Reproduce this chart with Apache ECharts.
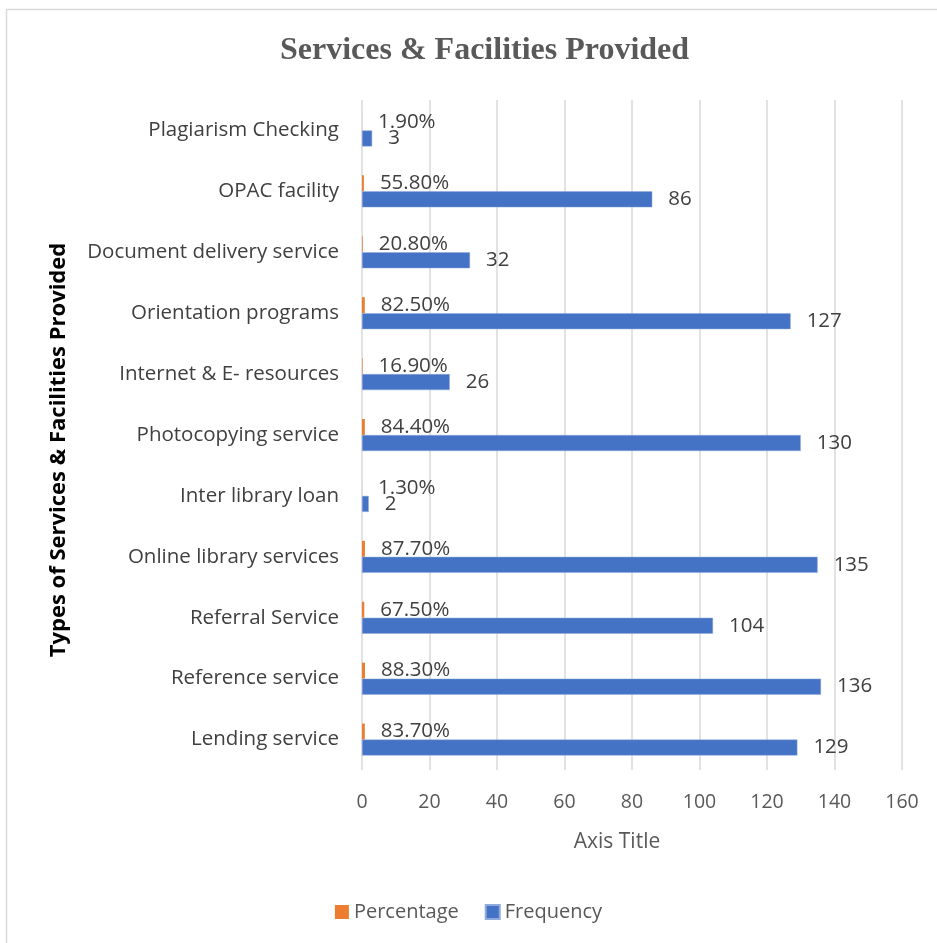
<!DOCTYPE html>
<html>
<head>
<meta charset="utf-8">
<script src="https://cdn.jsdelivr.net/npm/echarts@6/dist/echarts.min.js"></script>
<style>
  html, body { margin: 0; padding: 0; background: #fff; }
  #main { width: 937px; height: 943px; }
</style>
</head>
<body>
<div id="main"></div>
<script>
// categories, bottom to top as drawn
var categories = ['Lending service', 'Reference service', 'Referral Service', 'Online library services',
  'Inter library loan', 'Photocopying service', 'Internet & E- resources', 'Orientation programs',
  'Document delivery service', 'OPAC facility', 'Plagiarism Checking'];
var frequency = [129, 136, 104, 135, 2, 130, 26, 127, 32, 86, 3];
var percentage = [0.837, 0.883, 0.675, 0.877, 0.013, 0.844, 0.169, 0.825, 0.208, 0.558, 0.019];
var xTicks = [0, 20, 40, 60, 80, 100, 120, 140, 160];

var font = 'Open Sans';
var chart = echarts.init(document.getElementById('main'));
chart.setOption({
  animation: false,
  backgroundColor: '#fff',
  graphic: [{
    type: 'rect',
    shape: { x: 6.5, y: 9.5, width: 1000, height: 1000 },
    style: { fill: 'none', stroke: '#d9d9d9', lineWidth: 1.5 }
  }],
  title: {
    text: 'Services & Facilities Provided',
    left: 275,
    top: 30,
    textStyle: { fontFamily: 'Liberation Serif', fontWeight: 'bold', fontSize: 32, color: '#595959' }
  },
  legend: {
    data: ['Percentage', 'Frequency'],
    bottom: 16,
    left: 'center',
    itemWidth: 14,
    itemHeight: 14,
    itemGap: 26,
    icon: 'rect',
    textStyle: { fontFamily: font, fontSize: 20, color: '#595959' }
  },
  grid: { left: 362, right: 35, top: 100, bottom: 173 },
  xAxis: {
    type: 'value',
    min: xTicks[0],
    max: xTicks[xTicks.length - 1],
    interval: 20,
    name: 'Axis Title',
    nameLocation: 'middle',
    nameGap: 62,
    nameTextStyle: { fontFamily: font, fontSize: 21, color: '#595959', padding: [0, 30, 0, 0] },
    axisLine: { show: false },
    axisTick: { show: false },
    axisLabel: { fontFamily: font, fontSize: 19.5, color: '#595959', margin: 22 },
    splitLine: { lineStyle: { color: '#d9d9d9', width: 1.5 } }
  },
  yAxis: {
    type: 'category',
    data: categories,
    name: 'Types of Services & Facilities Provided',
    nameLocation: 'middle',
    nameGap: 292,
    nameTextStyle: { fontFamily: font, fontSize: 22, fontWeight: 'bold', color: '#000', padding: [0, 30, 0, 0] },
    axisLine: { show: false },
    axisTick: { show: false },
    axisLabel: { fontFamily: font, fontSize: 20.5, color: '#404040', margin: 23 }
  },
  series: [
    {
      name: 'Percentage',
      type: 'bar',
      data: percentage,
      barWidth: 16,
      barGap: '0%',
      itemStyle: { color: '#ED7D31' },
      label: {
        show: true,
        position: 'right',
        distance: 16,
        fontFamily: font,
        fontSize: 20.5,
        color: '#404040',
        formatter: function (p) { return (p.value * 100).toFixed(2) + '%'; }
      }
    },
    {
      name: 'Frequency',
      type: 'bar',
      data: frequency,
      barWidth: 16,
      barGap: '0%',
      itemStyle: { color: '#4472C4', borderColor: '#8FAADC', borderWidth: 0.5 },
      label: {
        show: true,
        position: 'right',
        distance: 16,
        fontFamily: font,
        fontSize: 20.5,
        color: '#404040'
      }
    }
  ]
});
window.addEventListener('resize', function () { chart.resize(); });
</script>
</body>
</html>
